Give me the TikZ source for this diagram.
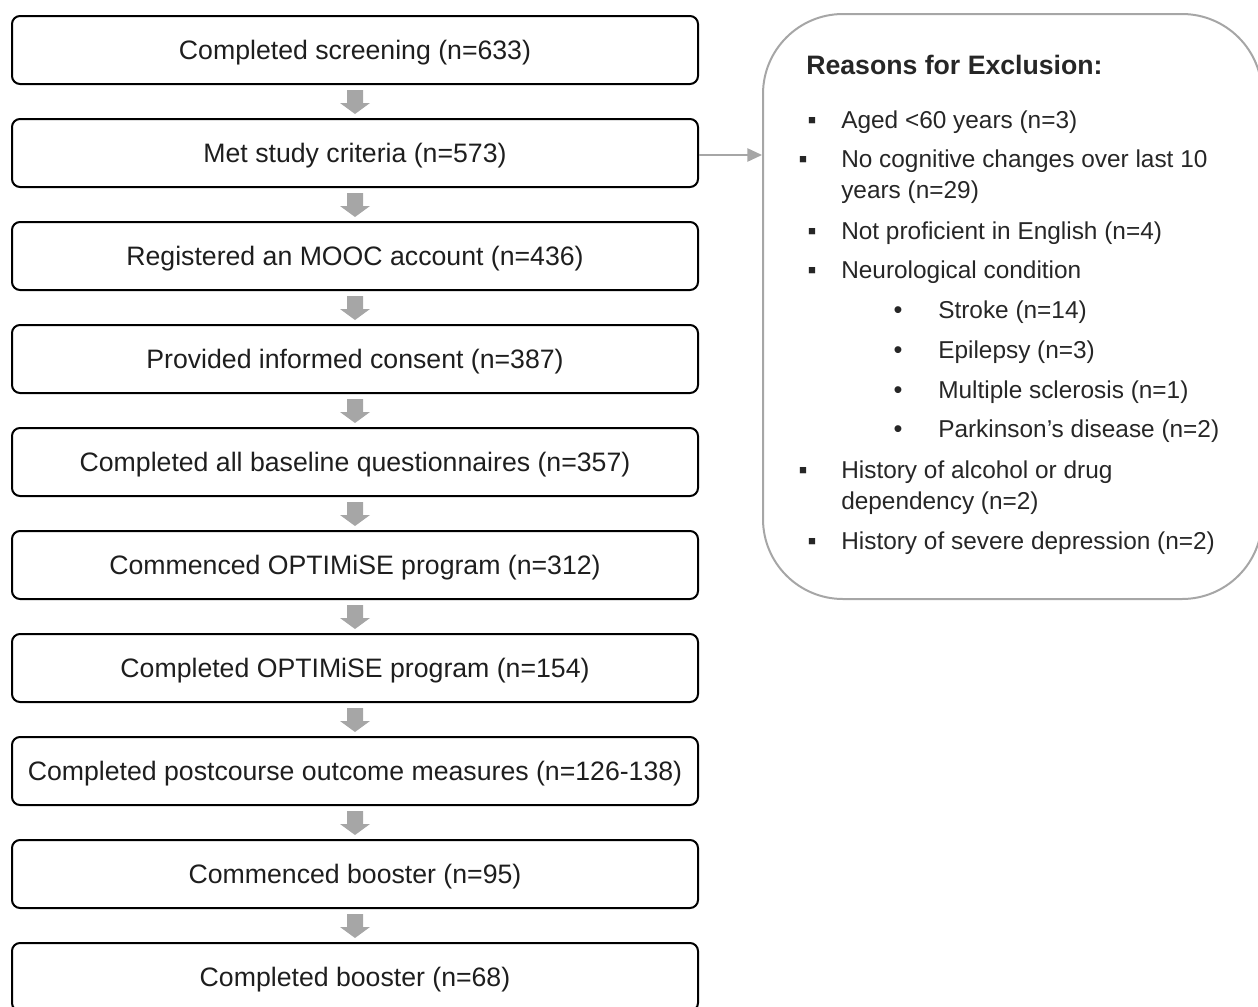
\documentclass[tikz,border=0pt]{standalone}
\usepackage{fontspec}
\setmainfont{Liberation Sans}
\usetikzlibrary{arrows.meta,calc}
\definecolor{arrgray}{HTML}{A6A6A6}
\definecolor{boxgray}{HTML}{A6A6A6}
\definecolor{txt}{HTML}{1E1E1E}
\definecolor{txtr}{HTML}{262626}
\begin{document}
\begin{tikzpicture}[x=0.75pt,y=-0.75pt,
  stepbox/.style={draw=black, line width=1.5pt, rounded corners=6pt,
    minimum width=514.5pt, minimum height=51pt, inner sep=0pt,
    text height=18.4pt, text depth=4.2pt,
    font=\fontsize{20}{24}\selectfont, text=txt},
  exclbox/.style={draw=boxgray, line width=1.5pt, rounded corners=60pt,
    minimum width=374.25pt, minimum height=438.75pt, inner sep=0pt},
  item/.style={anchor=base west, inner sep=0pt, text=txtr,
    font=\fontsize{18.3}{22}\selectfont},
  bul/.style={anchor=base, inner sep=0pt, text=txtr,
    font=\fontsize{19}{22}\selectfont},
  titletext/.style={anchor=base west, inner sep=0pt, text=txtr,
    font=\bfseries\fontsize{20}{24}\selectfont},
  sidearrow/.style={draw=arrgray, line width=1.2pt,
    -{Triangle[length=11pt,width=10pt,fill=arrgray]}}
]
\useasboundingbox (0,0) rectangle (1258,1007);
\clip (0,0) rectangle (1258,1007);

% flow boxes
\node[stepbox] (b1)  at (355,50)  {Completed screening (n=633)};
\node[stepbox] (b2)  at (355,153) {Met study criteria (n=573)};
\node[stepbox] (b3)  at (355,256) {Registered an MOOC account (n=436)};
\node[stepbox] (b4)  at (355,359) {Provided informed consent (n=387)};
\node[stepbox] (b5)  at (355,462) {Completed all baseline questionnaires (n=357)};
\node[stepbox] (b6)  at (355,565) {Commenced OPTIMiSE program (n=312)};
\node[stepbox] (b7)  at (355,668) {Completed OPTIMiSE program (n=154)};
\node[stepbox] (b8)  at (355,771) {Completed postcourse outcome measures (n=126-138)};
\node[stepbox] (b9)  at (355,874) {Commenced booster (n=95)};
\node[stepbox] (b10) at (355,977) {Completed booster (n=68)};

% block arrows
\foreach \a/\b in {b1/b2,b2/b3,b3/b4,b4/b5,b5/b6,b6/b7,b7/b8,b8/b9,b9/b10}{
  \fill[arrgray] ($(\a.south)+(-8,5)$) -- ($(\a.south)+(8,5)$)
    -- ($(\a.south)+(8,18)$) -- ($(\a.south)+(15,18)$)
    -- ($(\b.north)+(0,-4)$)
    -- ($(\a.south)+(-15,18)$) -- ($(\a.south)+(-8,18)$) -- cycle;
}

% exclusion box
\node[exclbox] (excl) at (1012.5,306.5) {};
\draw[sidearrow] ($(b2.east)+(0,2)$) -- ($(b2.east -| excl.west)+(0,2)$);

\node[titletext] (title) at (806,74) {Reasons for Exclusion:};

\node[bul] (u1) at (812,128) {▪};
\node[item] (t1) at (841,128) {Aged <60 years (n=3)};
\node[bul] (u2) at (803,167) {▪};
\node[item] (t2) at (841,167) {No cognitive changes over last 10};
\node[item] (t2b) at (841,198) {years (n=29)};
\node[bul] (u3) at (812,239) {▪};
\node[item] (t3) at (841,239) {Not proficient in English (n=4)};
\node[bul] (u4) at (812,278) {▪};
\node[item] (t4) at (841,278) {Neurological condition};
\node[bul] (s1) at (898,318) {•};
\node[item] (r1) at (938,318) {Stroke (n=14)};
\node[bul] (s2) at (898,358) {•};
\node[item] (r2) at (938,358) {Epilepsy (n=3)};
\node[bul] (s3) at (898,398) {•};
\node[item] (r3) at (938,398) {Multiple sclerosis (n=1)};
\node[bul] (s4) at (898,437) {•};
\node[item] (r4) at (938,437) {Parkinson’s disease (n=2)};
\node[bul] (u5) at (803,478) {▪};
\node[item] (t5) at (841,478) {History of alcohol or drug};
\node[item] (t5b) at (841,509) {dependency (n=2)};
\node[bul] (u6) at (812,549) {▪};
\node[item] (t6) at (841,549) {History of severe depression (n=2)};
\end{tikzpicture}
\end{document}
